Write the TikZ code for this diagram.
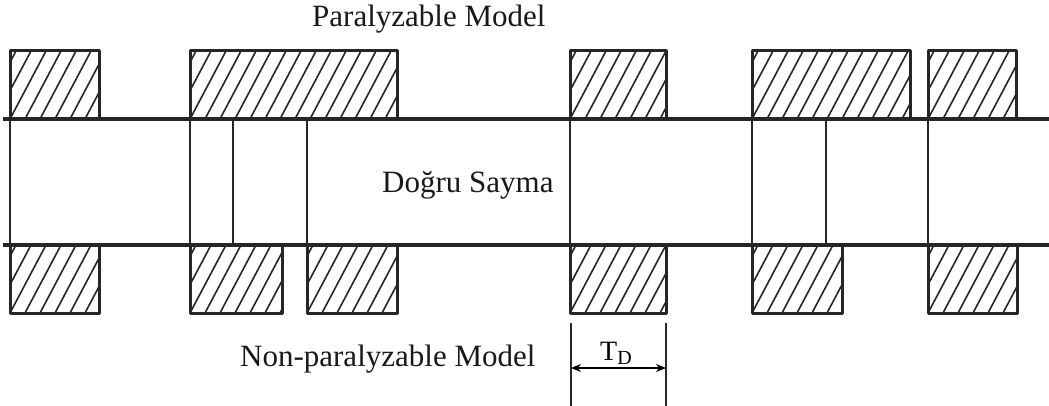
\documentclass[tikz,border=0pt]{standalone}
\usepackage{fontspec}
\setmainfont{Liberation Serif}
\usetikzlibrary{arrows.meta}
\definecolor{ink}{HTML}{262626}
\newcommand\hatchbox[4]{%
  \begin{scope}
    \clip (#1,#2) rectangle (#3,#4);
    \foreach \k in {-4,...,16} {\draw[hatchline] ({#1+\k*15},#4) -- ++(36,{#2-#4});}
  \end{scope}
  \draw[boxline] (#1,#2) rectangle (#3,#4);
}
\begin{document}
\begin{tikzpicture}[x=1pt,y=-1pt]
\tikzset{
  mainline/.style={line width=3.2pt, draw=ink},
  boxline/.style={line width=3pt, draw=ink, line join=round},
  hatchline/.style={line width=1.6pt, draw=ink},
  divline/.style={line width=2.5pt, draw=ink},
  lbl/.style={font=\fontsize{31}{36}\selectfont, inner sep=0pt, text=black!90},
  dimarrow/.style={line width=1.6pt, draw=black, {Stealth[length=10pt,width=8pt]}-{Stealth[length=10pt,width=8pt]}}
}
\useasboundingbox (0,0) rectangle (1049,406);
\fill[white] (0,0) rectangle (1049,406);

% top boxes
\hatchbox{10}{51}{99}{119}
\hatchbox{190}{51}{397}{119}
\hatchbox{570}{51}{666}{119}
\hatchbox{752}{51}{910}{119}
\hatchbox{928}{51}{1016}{119}
% bottom boxes
\hatchbox{10}{245}{99}{313}
\hatchbox{190}{245}{282}{313}
\hatchbox{307}{245}{397}{313}
\hatchbox{570}{245}{666}{313}
\hatchbox{752}{245}{842}{313}
\hatchbox{928}{245}{1017}{313}

% horizontal lines
\draw[mainline] (3,119) -- (1049,119);
\draw[mainline] (3,245) -- (1049,245);

% vertical lines between
\foreach \x in {10,190,233,307,570,752,826,928} {\draw[divline] (\x,119) -- (\x,245);}

% labels
\node[lbl, anchor=base west] (para) at (312,27) {Paralyzable Model};
\node[lbl, anchor=base west] (dogru) at (382,193) {Doğru Sayma};
\node[lbl, anchor=base west] (nonpara) at (240,366) {Non-paralyzable Model};

% T_D dimension
\coordinate (dl) at (571,368);
\coordinate (dr) at (666,368);
\draw[divline] (571,323) -- (571,406);
\draw[divline] (666,323) -- (666,406);
\draw[dimarrow] (dl) -- (dr);
\node[inner sep=0pt, anchor=base west, font=\fontsize{28}{30}\selectfont] (td) at (600,360) {T\raisebox{-4pt}{\fontsize{20}{20}\selectfont D}};
\end{tikzpicture}
\end{document}
